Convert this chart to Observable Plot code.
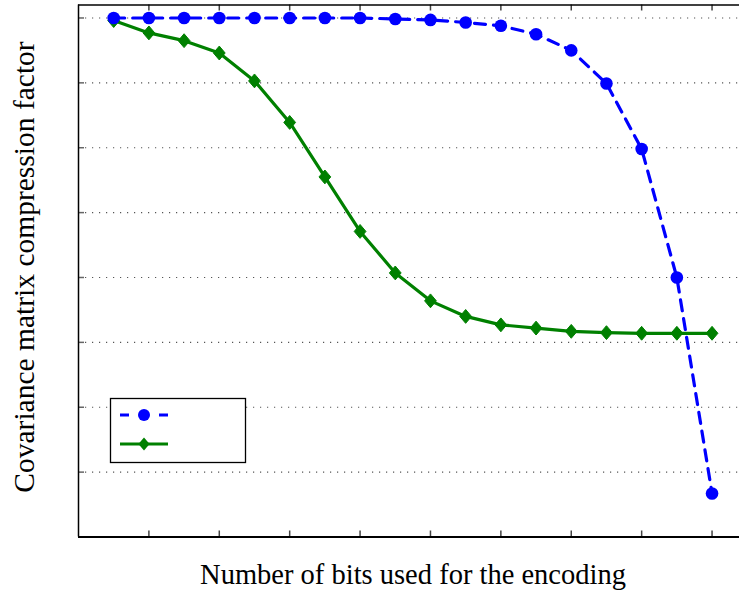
<!DOCTYPE html>
<html>
<head>
<meta charset="utf-8">
<script src="https://cdn.jsdelivr.net/npm/d3@7"></script>
<script src="https://cdn.jsdelivr.net/npm/@observablehq/plot@0.6"></script>
<style>
  html, body { margin: 0; padding: 0; background: #fff; }
  #chart svg { display: block; }
</style>
</head>
<body>
<div id="chart"></div>
<script>
// Number of bits used for the encoding
const bits = [1, 2, 3, 4, 5, 6, 7, 8, 9, 10, 11, 12, 13, 14, 15, 16, 17, 18];

// Compression factor of the two encodings (dashed blue circles, solid green diamonds)
const seriesA = [8.0, 8.0, 8.0, 8.0, 8.0, 8.0, 8.0, 8.0, 7.985, 7.97, 7.93, 7.88, 7.75, 7.5, 6.99, 5.98, 4.0, 0.67];
const seriesB = [7.96, 7.77, 7.65, 7.46, 7.03, 6.39, 5.55, 4.71, 4.07, 3.64, 3.40, 3.27, 3.22, 3.17, 3.15, 3.14, 3.14, 3.14];

// Tick positions (the axes carry no tick labels)
const xTicks = [2, 4, 6, 8, 10, 12, 14, 16, 18];
const yTicks = [1, 2, 3, 4, 5, 6, 7, 8];

const xLabel = "Number of bits used for the encoding";
const yLabel = "Covariance matrix compression factor";

const rowsA = bits.map((b, i) => ({bits: b, value: seriesA[i]}));
const rowsB = bits.map((b, i) => ({bits: b, value: seriesB[i]}));

const W = 739, H = 596;
const mTop = 4.5, mBottom = 59.5, mLeft = 78, mRight = 0;
const innerW = W - mLeft - mRight, innerH = H - mTop - mBottom;
const xMax = 18.78, yMax = 8.2;

const BLUE = "#0000ff", GREEN = "#008000";
const serif = "'Liberation Serif', 'DejaVu Serif', serif";

// Diamond a little taller than wide
const diamond = {
  draw(ctx, size) {
    const h = Math.sqrt(size) * 0.62;
    const w = h * 0.85;
    ctx.moveTo(0, -h); ctx.lineTo(w, 0); ctx.lineTo(0, h); ctx.lineTo(-w, 0); ctx.closePath();
  }
};

const plot = Plot.plot({
  width: W,
  height: H,
  marginTop: mTop,
  marginBottom: mBottom,
  marginLeft: mLeft,
  marginRight: mRight,
  style: {background: "#fff", overflow: "visible"},
  x: {domain: [0, xMax], axis: null},
  y: {domain: [0, yMax], axis: null},
  marks: [
    // dotted horizontal grid
    Plot.ruleY(yTicks, {stroke: "#555", strokeWidth: 1.2, strokeDasharray: "1.2,5.8"}),
    // short y ticks on the left edge
    Plot.tickY(yTicks, {y: d => d, stroke: "#666", strokeWidth: 1.5, insetRight: innerW - 6}),
    // x ticks on bottom and top edges, pointing inward
    Plot.tickX(xTicks, {x: d => d, stroke: "#444", strokeWidth: 1.5, insetTop: innerH - 6}),
    Plot.tickX(xTicks, {x: d => d, stroke: "#444", strokeWidth: 1.5, insetBottom: innerH - 6}),
    // frame edges
    Plot.ruleY([0], {stroke: "#000", strokeWidth: 2}),
    Plot.ruleY([yMax], {stroke: "#000", strokeWidth: 1.5}),
    Plot.ruleX([0], {stroke: "#000", strokeWidth: 1.5}),
    // series
    Plot.line(rowsB, {x: "bits", y: "value", stroke: GREEN, strokeWidth: 3.2}),
    Plot.dot(rowsB, {x: "bits", y: "value", fill: GREEN, stroke: GREEN, strokeWidth: 1, symbol: diamond, r: 6.3}),
    Plot.line(rowsA, {x: "bits", y: "value", stroke: BLUE, strokeWidth: 3.2, strokeDasharray: "11,8"}),
    Plot.dot(rowsA, {x: "bits", y: "value", fill: BLUE, r: 6.3}),
    // axis titles
    Plot.text([xLabel], {text: d => d, frameAnchor: "bottom", textAnchor: "middle", lineAnchor: "middle", dx: 4, dy: 38, fontSize: 28.5, fontFamily: serif, fill: "#000"}),
    Plot.text([yLabel], {text: d => d, frameAnchor: "left", textAnchor: "middle", lineAnchor: "middle", rotate: -90, dx: -54, dy: -4, fontSize: 29.5, fontFamily: serif, fill: "#000"})
  ]
});

// Legend box with sample line + marker for each encoding
const svg = d3.select(plot);
const lg = svg.append("g");
lg.append("rect")
  .attr("x", 110.5).attr("y", 398.5).attr("width", 135).attr("height", 64)
  .attr("fill", "#fff").attr("stroke", "#000").attr("stroke-width", 1.3);
lg.append("line")
  .attr("x1", 120).attr("x2", 168).attr("y1", 415).attr("y2", 415)
  .attr("stroke", BLUE).attr("stroke-width", 3).attr("stroke-dasharray", "9,30,9");
lg.append("circle").attr("cx", 144).attr("cy", 415).attr("r", 6).attr("fill", BLUE);
lg.append("line")
  .attr("x1", 120).attr("x2", 168).attr("y1", 444).attr("y2", 444)
  .attr("stroke", GREEN).attr("stroke-width", 3);
lg.append("path")
  .attr("d", d3.symbol(diamond, Math.PI * 36)())
  .attr("transform", "translate(144,444)").attr("fill", GREEN);

document.getElementById("chart").appendChild(plot);
</script>
</body>
</html>
